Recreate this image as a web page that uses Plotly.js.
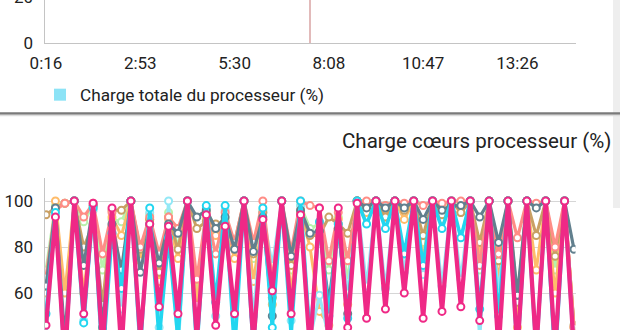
<!DOCTYPE html>
<html>
<head>
<meta charset="utf-8">
<script src="https://cdn.plot.ly/plotly-3.0.1.min.js"></script>
<style>
  html, body { margin:0; padding:0; width:620px; height:330px; overflow:hidden; background:#fff; }
  #chart { position:absolute; left:0; top:-300px; width:620px; height:760px; }
  #strip { position:absolute; left:613px; top:0; width:7px; height:208px; background:#eeeeee; }
</style>
</head>
<body>
<div id="strip"></div>
<div id="chart"></div>
<script>
// ---- data ----
const tickSamples = [0, 10, 20, 30, 40, 50];
const tickLabels = ['0:16', '2:53', '5:30', '8:08', '10:47', '13:26'];
const highlightSample = 28;
const totalSeriesName = 'Charge totale du processeur (%)';
const coreTitle = 'Charge cœurs processeur (%)';

const corePink   = [46,93,30,100,51,99,35,97,35,100,40,90,54,89,51,100,40,94,46,89,51,100,38,92,61,100,51,94,35,97,35,97,45,99,49,100,53,100,60,100,49,100,52,100,54,100,48,100,35,100,35,100,35,100,35,100,35];
const coreCyan   = [51,95,30,100,47,97,30,86,62,100,35,97,40,84,40,100,35,98,56,98,35,100,35,97,45,100,42,100,40,91,50,90,49,100,90,100,88,100,77,100,72,100,88,100,84,100,53,100,50,100,35,100,35,100,30,100,35];
const coreLCyan  = [40,94,25,100,48,96,32,88,53,100,38,95,45,100,35,100,38,97,50,96,40,100,50,95,72,100,48,98,40,59,40,88,60,100,63,100,62,100,69,100,68,100,63,100,66,100,40,100,60,100,30,100,30,100,30,100,35];
const coreGrey   = [63,97,40,100,72,98,45,90,70,100,69,90,73,90,86,100,93,96,88,93,79,100,78,93,50,100,76,96,86,87,56,88,51,100,97,100,97,100,97,100,92,100,96,98,98,100,93,100,82,100,59,100,97,100,35,100,79];
const coreSalmon = [67,96,99,100,93,99,77,95,65,100,80,93,77,93,88,100,66,95,77,95,82,100,82,100,65,100,78,100,98,97,74,95,74,100,100,100,98,100,99,100,98,100,99,100,100,100,72,100,77,100,84,100,99,100,80,100,45];
const coreTan    = [94,97,99,100,80,90,55,96,96,100,79,92,69,93,79,100,88,91,90,87,82,100,77,95,58,100,72,95,85,85,93,90,86,100,99,100,93,100,96,100,85,100,94,100,95,100,82,100,74,100,56,100,85,100,76,100,46];
const coreOrange = [60,100,60,100,60,97,45,93,85,100,74,92,65,92,75,100,55,92,85,89,75,100,65,92,55,100,60,96,80,52,46,92,55,100,95,100,93,100,92,100,75,100,92,100,95,100,76,100,65,100,45,100,70,100,60,100,45];
const coreGreen  = [70,98,99,100,91,98,70,92,91,100,75,94,72,95,80,100,60,96,88,92,80,100,75,96,62,100,70,98,88,90,70,93,65,100,99,100,98,100,98,100,82,100,98,100,99,100,70,100,71,100,57,100,98,100,70,100,45];

// ---- drawing ----
const samples = corePink.map((_, i) => i);
const W = 620, H = 760, OFF = 300;          // figure is shifted up by OFF px
const px = v => v / W;
const py = v => (H - (v + OFF)) / H;        // page y -> paper y

const series = [
  {name: 'Cœur 8', y: coreGreen,  color: '#b8f2ac', w: 3},
  {name: 'Cœur 7', y: coreOrange, color: '#ffbc6a', w: 3},
  {name: 'Cœur 6', y: coreLCyan,  color: '#93e8f6', w: 3},
  {name: 'Cœur 5', y: coreTan,    color: '#c9a064', w: 3},
  {name: 'Cœur 4', y: coreSalmon, color: '#ff8d86', w: 3.2},
  {name: 'Cœur 3', y: coreGrey,   color: '#62808e', w: 3.2},
  {name: 'Cœur 2', y: coreCyan,   color: '#22d6f0', w: 3.6},
  {name: 'Cœur 1', y: corePink,   color: '#ef2986', w: 4.3}
];

const traces = series.map(s => ({
  type: 'scatter', mode: 'lines+markers', name: s.name,
  x: samples, y: s.y, xaxis: 'x2', yaxis: 'y3', showlegend: false,
  line: {color: s.color, width: s.w},
  marker: {symbol: 'circle', size: 7, color: '#ffffff', line: {color: s.color, width: 2}},
  hoverinfo: 'skip'
}));

// legend entry for the top (total load) chart
traces.push({
  type: 'scatter', mode: 'markers', name: totalSeriesName,
  x: [null], y: [null], xaxis: 'x', yaxis: 'y',
  marker: {symbol: 'square', size: 12, color: '#8ce3f6'},
  showlegend: true, hoverinfo: 'skip'
});

const xd = [px(44.5), px(575.5)];
const fontTick = {family: 'Roboto, sans-serif', size: 17, color: '#222'};
const xrange = [-0.16, 56.16];
const axisCommonY = {
  range: [0, 110], dtick: 20, tick0: 0, tickfont: fontTick,
  showline: true, linecolor: '#c4c4c4', linewidth: 1,
  gridcolor: '#d6d6d6', gridwidth: 1, zeroline: false,
  ticks: '', ticklabelstandoff: 7, ticklabeloverflow: 'allow', fixedrange: true
};

const layout = {
  width: W, height: H,
  margin: {l: 0, r: 0, t: 0, b: 0},
  paper_bgcolor: 'rgba(0,0,0,0)', plot_bgcolor: 'rgba(0,0,0,0)',
  font: {family: 'Roboto, sans-serif', color: '#222'},
  showlegend: true,
  legend: {
    x: px(40), y: py(95), xanchor: 'left', yanchor: 'middle',
    font: {family: 'Roboto, sans-serif', size: 17.2, color: '#222'},
    bgcolor: 'rgba(0,0,0,0)', borderwidth: 0, itemclick: false
  },
  xaxis: {
    domain: xd, anchor: 'y', range: xrange,
    tickmode: 'array', tickvals: tickSamples, ticktext: tickLabels,
    tickfont: fontTick, showgrid: false, zeroline: false,
    showline: true, linecolor: '#c4c4c4', linewidth: 1, ticks: '', ticklabelstandoff: 5
  },
  yaxis: Object.assign({}, axisCommonY, {domain: [py(43), py(43 - 253)], anchor: 'x', side: 'left'}),
  yaxis2: Object.assign({}, axisCommonY, {overlaying: 'y', anchor: 'x', side: 'right', showgrid: false}),
  xaxis2: {
    domain: xd, anchor: 'y3', range: xrange,
    tickmode: 'array', tickvals: tickSamples, ticktext: tickLabels,
    tickfont: fontTick, showgrid: false, zeroline: false,
    showline: true, linecolor: '#c4c4c4', ticks: ''
  },
  yaxis3: Object.assign({}, axisCommonY, {domain: [py(431), py(178)], anchor: 'x2', side: 'left'}),
  yaxis4: Object.assign({}, axisCommonY, {overlaying: 'y3', anchor: 'x2', side: 'right', showgrid: false}),
  shapes: [
    {type: 'line', xref: 'x', yref: 'y', x0: highlightSample, x1: highlightSample, y0: 0, y1: 110,
     line: {color: '#d9a3a3', width: 1.5}},
    {type: 'line', xref: 'paper', yref: 'paper', x0: 0, x1: 1, y0: py(113.5), y1: py(113.5),
     line: {color: '#7a7a7a', width: 2.5}},
    {type: 'line', xref: 'paper', yref: 'paper', x0: 0, x1: 1, y0: py(115.5), y1: py(115.5),
     line: {color: '#dddddd', width: 1.5}}
  ],
  annotations: [
    {text: coreTitle, xref: 'paper', yref: 'paper', x: px(613), y: py(141),
     xanchor: 'right', yanchor: 'middle', showarrow: false,
     font: {family: 'Roboto, sans-serif', size: 20.5, color: '#222'}}
  ]
};

Plotly.newPlot('chart', traces, layout, {staticPlot: true, displayModeBar: false});
</script>
</body>
</html>
